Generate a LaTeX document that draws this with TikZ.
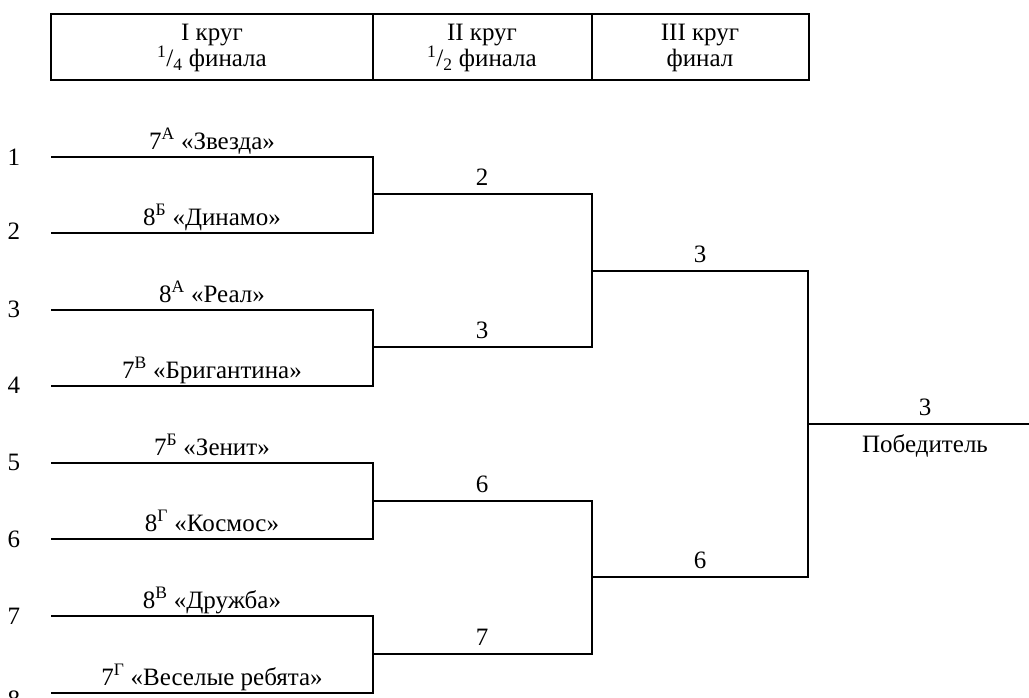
\documentclass[tikz,border=0pt]{standalone}
\usepackage{fontspec}
\setmainfont{Liberation Serif}

\tikzset{
	team/.style={anchor=base},
	score/.style={anchor=base},
	seed/.style={anchor=center}
}

\begin{document}
\begin{tikzpicture}[x=1pt, y=-1pt, line width=2.6pt, font=\fontsize{25}{26}\selectfont]
		\useasboundingbox (0,0) rectangle (1029,697);
		
		% Header with the rounds
		\draw (51,14) rectangle (809,80);
		\draw (373,14) -- (373,80);
		\draw (592,14) -- (592,80);
		\node[align=center] (round1) at (212,48) {I круг\\ \textsuperscript{1}/\textsubscript{4} финала};
		\node[align=center] (round2) at (482,48) {II круг\\ \textsuperscript{1}/\textsubscript{2} финала};
		\node[align=center] (round3) at (700,48) {III круг\\ финал};
		
		% Starting places
		\node[seed] (k1) at (14,157) {1};
		\node[seed] (k2) at (14,231) {2};
		\node[seed] (k3) at (14,309) {3};
		\node[seed] (k4) at (14,385) {4};
		\node[seed] (k5) at (14,462) {5};
		\node[seed] (k6) at (14,539) {6};
		\node[seed] (k7) at (14,616) {7};
		\node[seed] (k8) at (14,699) {8};
		
		% Ends of the lines in the first round
		\coordinate (p1) at (51,157);  \coordinate (q1) at (373,157);
		\coordinate (p2) at (51,233);  \coordinate (q2) at (373,233);
		\coordinate (p3) at (51,310);  \coordinate (q3) at (373,310);
		\coordinate (p4) at (51,386);  \coordinate (q4) at (373,386);
		\coordinate (p5) at (51,463);  \coordinate (q5) at (373,463);
		\coordinate (p6) at (51,539);  \coordinate (q6) at (373,539);
		\coordinate (p7) at (51,616);  \coordinate (q7) at (373,616);
		\coordinate (p8) at (51,693);  \coordinate (q8) at (373,693);
		
		% Ends of the lines in the second round
		\coordinate (s1) at (373,194);  \coordinate (r1) at (592,194);
		\coordinate (s2) at (373,347);  \coordinate (r2) at (592,347);
		\coordinate (s3) at (373,501);  \coordinate (r3) at (592,501);
		\coordinate (s4) at (373,654);  \coordinate (r4) at (592,654);
		
		% Final and winner
		\coordinate (u1) at (592,271);  \coordinate (v1) at (808,271);
		\coordinate (u2) at (592,577);  \coordinate (v2) at (808,577);
		\coordinate (w) at (808,424);   \coordinate (win) at (1029,424);
		
		% First round
		\draw (p1) -- (q1) -- (q2) -- (p2);
		\draw (p3) -- (q3) -- (q4) -- (p4);
		\draw (p5) -- (q5) -- (q6) -- (p6);
		\draw (p7) -- (q7) -- (q8) -- (p8);
		
		% Second round
		\draw (s1) -- (r1) -- (r2) -- (s2);
		\draw (s3) -- (r3) -- (r4) -- (s4);
		
		% Third round
		\draw (u1) -- (v1) -- (v2) -- (u2);
		\draw (w) -- (win);
		
		% Teams
		\node[team] (t1) at (212,149) {7\textsuperscript{А} «Звезда»};
		\node[team] (t2) at (212,225) {8\textsuperscript{Б} «Динамо»};
		\node[team] (t3) at (212,302) {8\textsuperscript{А} «Реал»};
		\node[team] (t4) at (212,378) {7\textsuperscript{В} «Бригантина»};
		\node[team] (t5) at (212,455) {7\textsuperscript{Б} «Зенит»};
		\node[team] (t6) at (212,531) {8\textsuperscript{Г} «Космос»};
		\node[team] (t7) at (212,608) {8\textsuperscript{В} «Дружба»};
		\node[team] (t8) at (212,685) {7\textsuperscript{Г} «Веселые ребята»};
		
		% Winners of the rounds
		\node[score] (w1) at (482,185) {2};
		\node[score] (w2) at (482,338) {3};
		\node[score] (w3) at (482,492) {6};
		\node[score] (w4) at (482,645) {7};
		\node[score] (f1) at (700,262) {3};
		\node[score] (f2) at (700,568) {6};
		\node[score] (champ) at (925,415) {3};
		\node[score] (champlabel) at (925,452) {Победитель};
	\end{tikzpicture}
\end{document}
